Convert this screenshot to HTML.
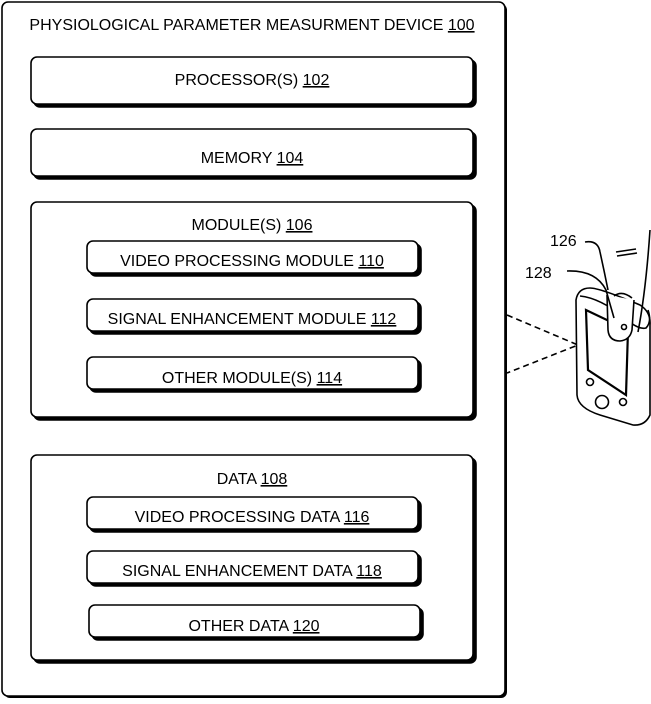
<!DOCTYPE html>
<html><head><meta charset="utf-8"><style>
html,body{margin:0;padding:0;background:#fff;}
svg text{font-family:"Liberation Sans",Arial,sans-serif;font-size:16px;fill:#000;}
</style></head><body>
<svg width="651" height="699" viewBox="0 0 651 699" xmlns="http://www.w3.org/2000/svg">
<!-- outer -->
<rect x="4" y="4" width="503" height="694" rx="6" fill="#000"/>
<rect x="2" y="2" width="503" height="694" rx="6" fill="#fff" stroke="#000" stroke-width="1.6"/>
<text x="252" y="30" text-anchor="middle">PHYSIOLOGICAL PARAMETER MEASURMENT DEVICE <tspan text-decoration="underline">100</tspan></text>

<g stroke="#000" stroke-width="1.6">
<rect x="34" y="60" width="442" height="47" rx="6" fill="#000"/>
<rect x="31" y="57" width="442" height="47" rx="6" fill="#fff"/>
<rect x="34" y="132" width="442" height="47" rx="6" fill="#000"/>
<rect x="31" y="129" width="442" height="47" rx="6" fill="#fff"/>
<rect x="34" y="205" width="442" height="215" rx="6" fill="#000"/>
<rect x="31" y="202" width="442" height="215" rx="6" fill="#fff"/>
<rect x="34" y="458" width="442" height="205" rx="6" fill="#000"/>
<rect x="31" y="455" width="442" height="205" rx="6" fill="#fff"/>
</g>
<g stroke="#000" stroke-width="1.6">
<rect x="90" y="244" width="331" height="32" rx="6" fill="#000"/>
<rect x="87" y="241" width="331" height="32" rx="6" fill="#fff"/>
<rect x="90" y="302" width="331" height="32" rx="6" fill="#000"/>
<rect x="87" y="299" width="331" height="32" rx="6" fill="#fff"/>
<rect x="90" y="360" width="331" height="32" rx="6" fill="#000"/>
<rect x="87" y="357" width="331" height="32" rx="6" fill="#fff"/>
<rect x="90" y="500" width="331" height="32" rx="6" fill="#000"/>
<rect x="87" y="497" width="331" height="32" rx="6" fill="#fff"/>
<rect x="90" y="554" width="331" height="32" rx="6" fill="#000"/>
<rect x="87" y="551" width="331" height="32" rx="6" fill="#fff"/>
<rect x="92" y="608" width="331" height="32" rx="6" fill="#000"/>
<rect x="89" y="605" width="331" height="32" rx="6" fill="#fff"/>
</g>
<g text-anchor="middle">
<text x="252" y="85">PROCESSOR(S) <tspan text-decoration="underline">102</tspan></text>
<text x="252" y="163">MEMORY <tspan text-decoration="underline">104</tspan></text>
<text x="252" y="230">MODULE(S) <tspan text-decoration="underline">106</tspan></text>
<text x="252" y="266">VIDEO PROCESSING MODULE <tspan text-decoration="underline">110</tspan></text>
<text x="252" y="324">SIGNAL ENHANCEMENT MODULE <tspan text-decoration="underline">112</tspan></text>
<text x="252" y="383">OTHER MODULE(S) <tspan text-decoration="underline">114</tspan></text>
<text x="252" y="484">DATA <tspan text-decoration="underline">108</tspan></text>
<text x="252" y="522">VIDEO PROCESSING DATA <tspan text-decoration="underline">116</tspan></text>
<text x="252" y="576">SIGNAL ENHANCEMENT DATA <tspan text-decoration="underline">118</tspan></text>
<text x="254" y="631">OTHER DATA <tspan text-decoration="underline">120</tspan></text>
</g>
<!-- phone -->
<g fill="none" stroke="#000" stroke-width="1.6">
<path d="M507 315 L578 345 L507 373" stroke-dasharray="6,4"/>
<path d="M576 300 Q578 288 590 288 Q600 288 640 305 Q651 312 650 325 L650 415 Q645 426 633 425 L600 415 Q578 408 577 395 Z" fill="#fff"/>
<path d="M580 296 Q600 298 625 318 Q638 330 646 328 Q652 322 648 310"/>
<path d="M586 310 L588 370 L626 395 L628 330 Z" stroke-width="2.2"/>
<circle cx="590" cy="382" r="3.5"/>
<circle cx="602" cy="402" r="6.5"/>
<circle cx="623" cy="402" r="3.5"/>
<path d="M607 295 L608 330 Q609 341 620 341 Q630 340 632 330 L634 300" fill="#fff"/>
<circle cx="624" cy="327" r="2.5"/>
<path d="M650 230 Q646 290 638 332"/>
<path d="M585 242 Q598 240 600 252 Q604 270 608 290"/>
<path d="M616 252 L636 249 M617 256 L637 253"/>
<path d="M567 271 Q596 270 606 290 L614 318"/>
<path d="M614 296 Q622 290 632 298"/>
</g>
<text x="550" y="246" font-size="15">126</text>
<text x="525" y="278" font-size="15">128</text>
</svg>
</body></html>
